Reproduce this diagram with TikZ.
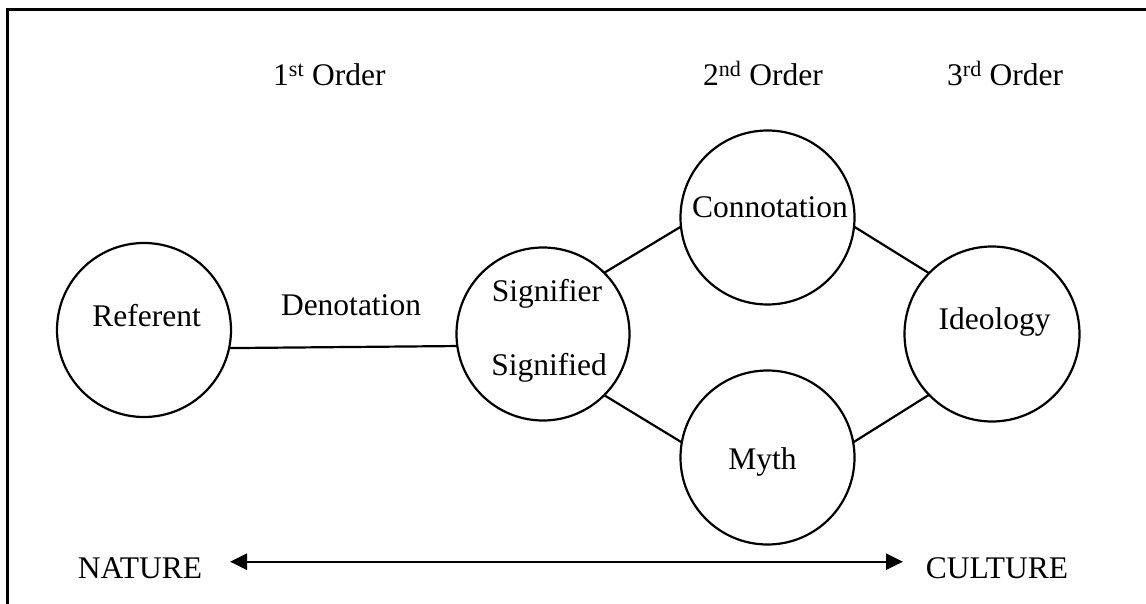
\documentclass[tikz,border=0pt]{standalone}
\usepackage{fontspec}
\setmainfont{Liberation Serif}
\usetikzlibrary{arrows.meta}
\begin{document}
\begin{tikzpicture}[x=1pt,y=-1pt,
  font=\fontsize{31.5}{36}\selectfont,
  ring/.style={circle,draw,line width=2.2pt,outer sep=0pt,inner sep=0pt},
  link/.style={line width=2.2pt},
  lbl/.style={anchor=base,inner sep=0pt},
  axis/.style={line width=2.4pt,{Triangle[length=17pt,width=16pt]}-{Triangle[length=17pt,width=16pt]}}]
\useasboundingbox (0,0) rectangle (1146,604);
\draw[line width=3pt] (7,604) -- (7,10) -- (1146,10);
% circles
\node[ring,minimum size=174pt] (ref) at (144,330) {};
\node[ring,minimum size=173pt] (sig) at (543,334) {};
\node[ring,minimum size=174pt] (con) at (767.5,217.5) {};
\node[ring,minimum size=174pt] (myth) at (767.5,457.5) {};
\node[ring,minimum size=175pt] (ideo) at (992,334) {};
% texts
\node[lbl] (tref) at (146.7,326) {Referent};
\node[lbl] (tsig1) at (547,301.7) {Signifier};
\node[lbl] (tsig2) at (549,375) {Signified};
\node[lbl] (tcon) at (770,217.3) {Connotation};
\node[lbl] (tmyth) at (762.5,469.3) {Myth};
\node[lbl] (tideo) at (994.7,329.3) {Ideology};
\node[lbl] (tden) at (351,315) {Denotation};
\node[lbl,anchor=base west] (o1) at (273,86) {1\textsuperscript{st} Order};
\node[lbl,anchor=base west] (o2) at (703,86) {2\textsuperscript{nd} Order};
\node[lbl,anchor=base west] (o3) at (947,86) {3\textsuperscript{rd} Order};
\node[lbl] (nat) at (140,578) {NATURE};
\node[lbl] (cul) at (997,578) {CULTURE};
% connectors
\draw[link] (ref.-12) -- (sig.188);
\draw[link] (sig.45) -- (con.186);
\draw[link] (sig.-45) -- (myth.170);
\draw[link] (con.-6) -- (ideo.136);
\draw[link] (myth.10) -- (ideo.224);
\coordinate (aL) at (230,561.7);
\coordinate (aR) at (903,561.7);
\draw[axis] (aL) -- (aR);
\end{tikzpicture}
\end{document}
